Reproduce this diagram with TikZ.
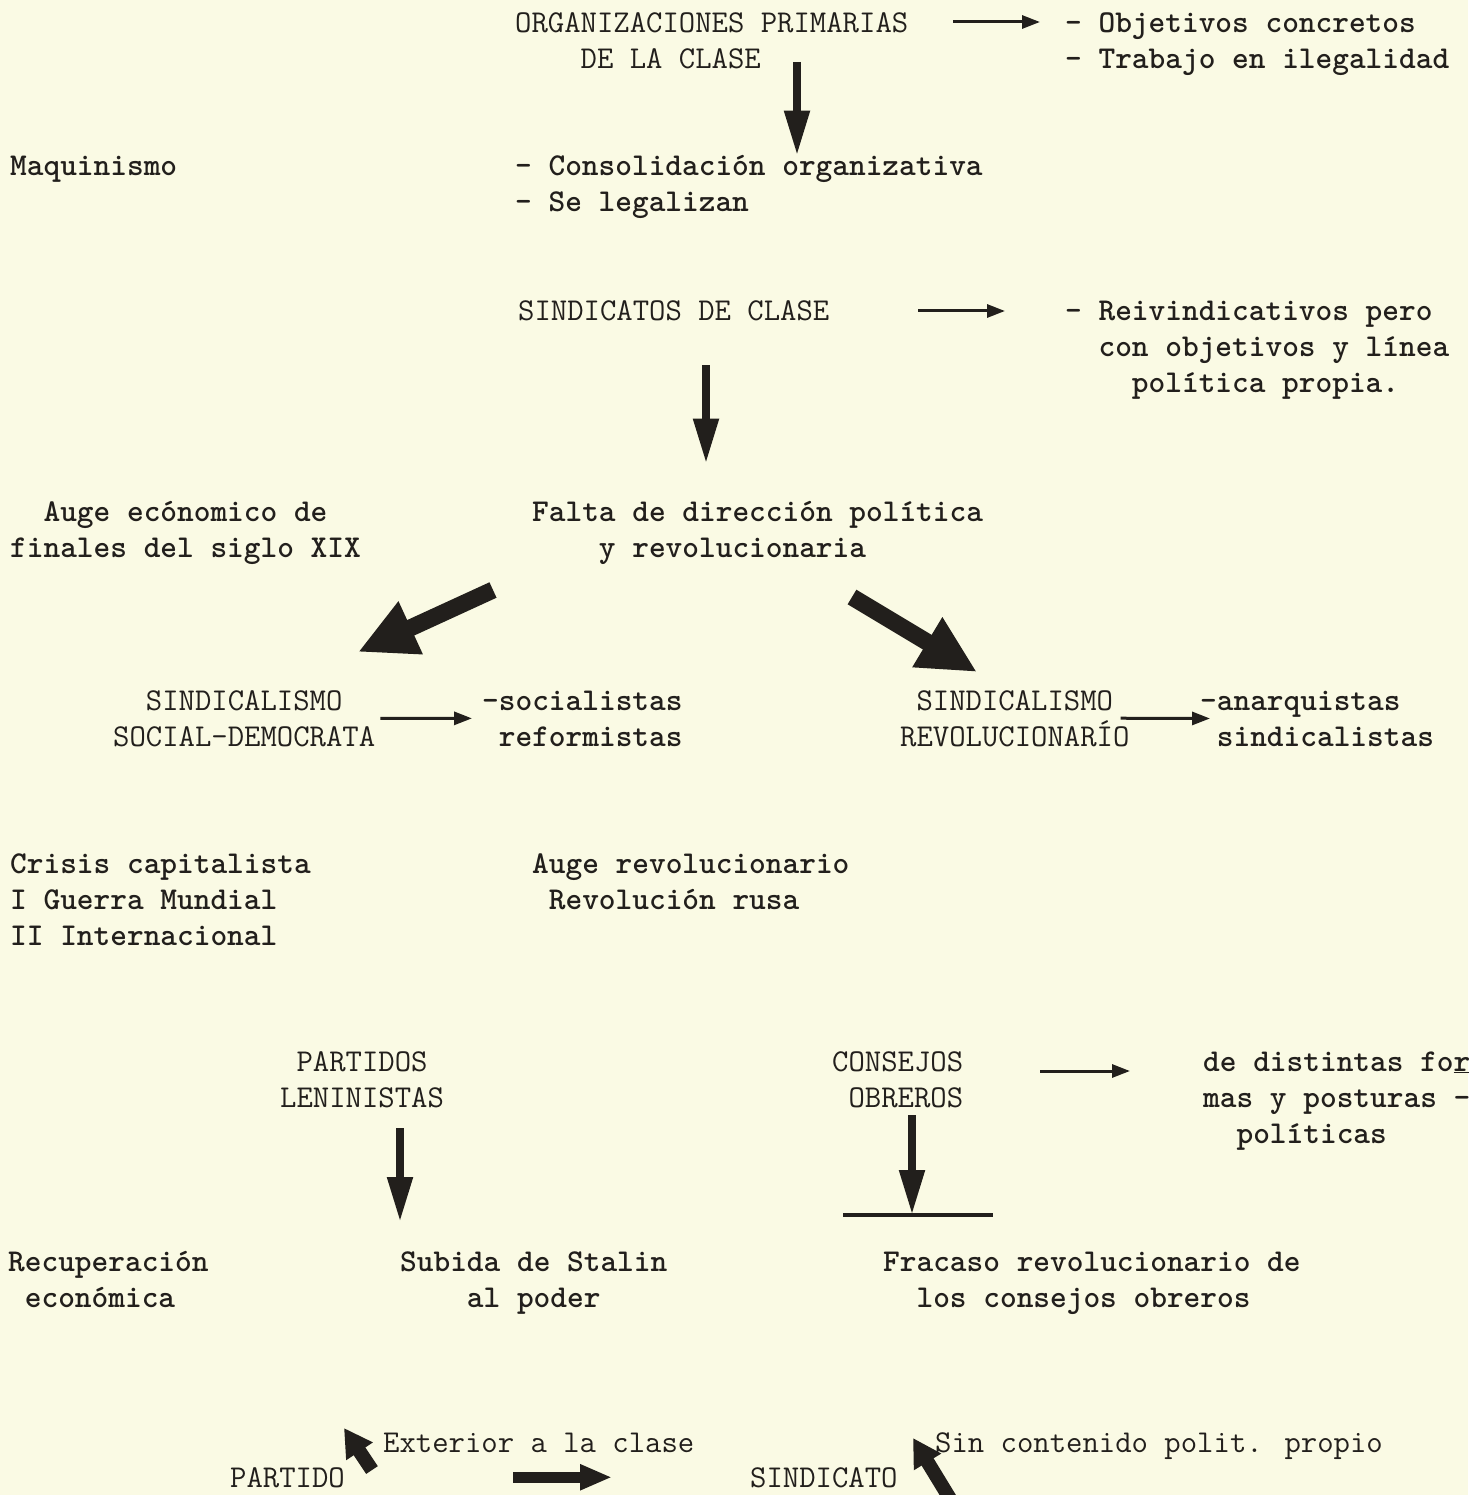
\documentclass[tikz,border=0pt]{standalone}
\usepackage{tikz}
\usetikzlibrary{arrows.meta}

\definecolor{paper}{RGB}{250,250,228}
\definecolor{ink}{RGB}{34,31,28}

\tikzset{
  caps/.style={anchor=base west,inner sep=0pt,align=left,text=ink,
    font=\ttfamily\fontsize{31.8}{36}\selectfont},
  note/.style={caps,font=\ttfamily\bfseries\fontsize{31.8}{36}\selectfont},
  thinarrow/.style={color=ink,line width=3pt,-{Triangle[length=18pt,width=13pt]}},
  downarrow/.style={color=ink,line width=8pt,-{Triangle[length=45pt,width=24pt]}},
  fatarrow/.style={color=ink,line width=17pt,-{Triangle[length=58pt,width=54pt]}},
  thickarrow/.style={color=ink,line width=11pt,-{Triangle[length=32pt,width=24pt]}},
  stubarrow/.style={color=ink,line width=14pt,-{Triangle[length=28pt,width=30pt]}}
}

\begin{document}
\begin{tikzpicture}[x=1pt,y=-1pt]
  \fill[paper] (0,0) rectangle (1468,1495);
  \useasboundingbox (0,0) rectangle (1468,1495);

  % nodes sit on the baseline of their last line
  \node[caps] (1) at (515,69) {ORGANIZACIONES PRIMARIAS\\~~~~DE LA CLASE};
  \node[note] (2) at (1065,69) {- Objetivos concretos\\- Trabajo en ilegalidad};
  \node[note] (3) at (10,176) {Maquinismo};
  \node[note] (4) at (515,212) {- Consolidación organizativa\\- Se legalizan};
  \node[caps] (5) at (518,320) {SINDICATOS DE CLASE};
  \node[note] (6) at (1065,392) {- Reivindicativos pero\\~~con objetivos y línea\\~~~~política propia.};
  \node[note] (7) at (532,557) {Falta de dirección política\\~~~~y revolucionaria};
  \node[note] (8) at (10,557) {~~Auge ecónomico de\\finales del siglo XIX};
  \node[caps,align=center] (9) at (113,746) {SINDICALISMO\\SOCIAL-DEMOCRATA};
  \node[note] (10) at (482,746) {-socialistas\\~reformistas};
  \node[caps,align=center] (11) at (900,746) {SINDICALISMO\\REVOLUCIONARÍO};
  \node[note] (12) at (1200,746) {-anarquistas\\~sindicalistas};
  \node[note] (13) at (10,945) {Crisis capitalista\\I Guerra Mundial\\II Internacional};
  \node[note] (14) at (532,909) {Auge revolucionario\\~Revolución rusa};
  \node[caps,align=center] (15) at (280,1107) {PARTIDOS\\LENINISTAS};
  \node[caps] (16) at (832,1107) {CONSEJOS\\~OBREROS};
  \node[note] (17) at (1203,1143) {de distintas fo\underline{r}\\mas y posturas -\\~~políticas};
  \node[note] (18) at (8,1307) {Recuperación\\~económica};
  \node[note] (19) at (400,1307) {Subida de Stalin\\~~~~al poder};
  \node[note] (20) at (883,1307) {Fracaso revolucionario de\\~~los consejos obreros};
  \node[caps] (21) at (383,1452) {Exterior a la clase};
  \node[caps] (22) at (230,1487) {PARTIDO};
  \node[caps] (23) at (750,1487) {SINDICATO};
  \node[caps] (24) at (935,1452) {Sin contenido polit. propio};

  % arrow tails
  \coordinate (t1) at (953,22);
  \coordinate (t2) at (797,62);
  \coordinate (t3) at (918,311);
  \coordinate (t4) at (706,365);
  \coordinate (t5) at (493,590);
  \coordinate (h5) at (358,652);
  \coordinate (t6) at (852,597);
  \coordinate (h6) at (977,672);
  \coordinate (t7) at (1040,1071);
  \coordinate (t8) at (400,1128);
  \coordinate (t9) at (912,1115);
  \coordinate (b1) at (843,1215);
  \coordinate (b2) at (993,1215);
  \coordinate (t10) at (372,1470);
  \coordinate (h10) at (344,1428);
  \coordinate (t11) at (952,1502);
  \coordinate (h11) at (913,1438);

  \path[thinarrow]
        (t1) edge[shorten >=25pt] (t1 -| 2.west)
        (t3) edge[shorten >=60pt] (t3 -| 6.west)
        (9.east) edge[shorten <=5pt,shorten >=10pt] (10.west)
        (11.east) edge[shorten <=-9pt,shorten >=-10pt] (12.west)
        (t7) edge[shorten >=73pt] (t7 -| 17.west)
        ;
  \path[downarrow]
        (t2) edge (t2 |- 4.north)
        (t4) edge[shorten >=37pt] (t4 |- 7.north)
        (t8) edge[shorten >=29pt] (t8 |- 19.north)
        (t9) edge (t9 |- b1)
        ;
  \draw[ink,line width=4.5pt] (b1) -- (b2);
  \path[fatarrow]
        (t5) edge (h5)
        (t6) edge (h6)
        ;
  \path[thickarrow]
        (22.east) edge[shorten <=168pt,shorten >=138pt] (23.west);
  \path[stubarrow]
        (t10) edge (h10)
        (t11) edge (h11)
        ;
\end{tikzpicture}
\end{document}
